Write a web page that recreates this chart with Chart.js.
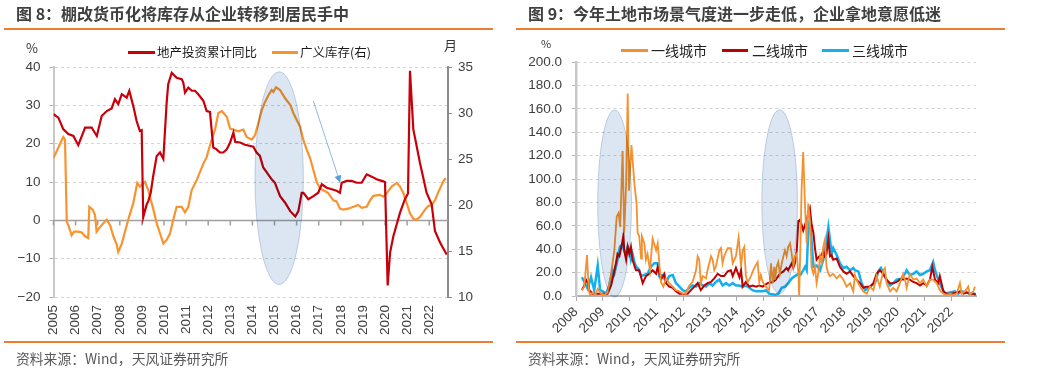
<!DOCTYPE html>
<html>
<head>
<meta charset="utf-8">
<script src="https://cdn.jsdelivr.net/npm/chart.js@4.4.1/dist/chart.umd.min.js"></script>
<style>
body{margin:0;width:1037px;height:377px;background:#fff;position:relative;overflow:hidden;font-family:"Noto Sans CJK SC","Noto Sans",sans-serif;}
canvas{position:absolute;top:0;}
.t{position:absolute;white-space:nowrap;z-index:2;}
.title{font-size:16px;font-weight:bold;color:#3f3f3f;top:3px;line-height:20px;}
.rule{position:absolute;height:1.5px;background:#ED7D31;z-index:2;}
.src{font-size:13.8px;color:#595959;top:349px;line-height:18px;}
.unit{font-size:13px;color:#333;line-height:16px;}
.sw{position:absolute;height:2.5px;z-index:2;}
</style>
</head>
<body>
<canvas id="c1" width="510" height="377" style="left:0"></canvas>
<canvas id="c2" width="527" height="377" style="left:510px"></canvas>

<div class="t title" style="left:16px">图 8：棚改货币化将库存从企业转移到居民手中</div>
<div class="rule" style="left:4px;top:28px;width:489px"></div>
<div class="rule" style="left:4px;top:341px;width:489px"></div>
<div class="t src" style="left:16px">资料来源：Wind，天风证券研究所</div>
<div class="t unit" style="left:26px;top:40px">%</div>
<div class="t unit" style="left:444px;top:37px">月</div>
<div class="sw" style="left:128px;top:51px;width:27px;background:#C8000A"></div>
<div class="t unit" style="left:157px;top:44px;font-size:12.5px;color:#1a1a1a">地产投资累计同比</div>
<div class="sw" style="left:272px;top:51px;width:26px;background:#F8932F"></div>
<div class="t unit" style="left:300px;top:44px;font-size:12.5px;color:#1a1a1a">广义库存(右)</div>

<div class="t title" style="left:528px">图 9：今年土地市场景气度进一步走低，企业拿地意愿低迷</div>
<div class="rule" style="left:516px;top:28px;width:489px"></div>
<div class="rule" style="left:516px;top:341px;width:489px"></div>
<div class="t src" style="left:528px">资料来源：Wind，天风证券研究所</div>
<div class="t unit" style="left:541px;top:35px;font-size:11px">%</div>
<div class="sw" style="left:621px;top:49px;width:27px;background:#F5902F"></div>
<div class="t unit" style="left:651px;top:41px;font-size:14px;line-height:18px;color:#222">一线城市</div>
<div class="sw" style="left:722px;top:49px;width:26px;background:#C00000"></div>
<div class="t unit" style="left:752px;top:41px;font-size:14px;line-height:18px;color:#222">二线城市</div>
<div class="sw" style="left:822px;top:49px;width:27px;background:#12B0EE"></div>
<div class="t unit" style="left:852px;top:41px;font-size:14px;line-height:18px;color:#222">三线城市</div>

<script>
// 图8 地产投资累计同比（%，左轴）
const invYears = [2005.00,2005.22,2005.44,2005.67,2005.90,2006.12,2006.43,2006.73,2006.80,2006.96,2007.18,2007.41,2007.63,2007.78,2007.93,2008.09,2008.31,2008.43,2008.61,2008.76,2008.91,2008.99,2009.06,2009.22,2009.29,2009.40,2009.51,2009.67,2009.82,2009.97,2010.12,2010.19,2010.35,2010.57,2010.80,2010.87,2010.95,2011.10,2011.26,2011.40,2011.55,2011.78,2011.93,2012.08,2012.23,2012.38,2012.53,2012.68,2012.84,2012.99,2013.14,2013.22,2013.44,2013.67,2014.04,2014.19,2014.34,2014.49,2014.65,2014.87,2015.02,2015.25,2015.48,2015.71,2015.94,2016.08,2016.23,2016.31,2016.53,2016.76,2016.98,2017.14,2017.36,2017.59,2017.81,2017.96,2018.04,2018.27,2018.49,2018.72,2018.94,2019.17,2019.40,2019.62,2019.85,2020.00,2020.12,2020.23,2020.38,2020.68,2020.90,2021.04,2021.13,2021.28,2021.58,2021.88,2022.11,2022.26,2022.49,2022.79];
const invValues = [27.7,26.8,23.8,22.5,22.0,19.6,24.2,24.2,23.5,22.0,27.2,28.5,29.2,31.6,30.3,32.9,32.0,33.8,29.8,25.9,23.3,23.5,0.8,4.2,5.0,7.2,11.5,16.8,17.7,16.0,30.7,35.5,38.5,37.2,36.8,36.0,33.3,34.6,33.8,33.8,32.9,31.2,28.5,28.3,19.0,18.5,17.7,17.7,18.5,20.3,22.9,20.5,20.3,19.7,19.2,17.7,16.8,13.8,12.5,10.7,9.8,6.3,4.6,2.4,1.0,2.4,7.2,7.2,5.5,6.3,7.2,9.4,8.5,8.1,7.7,7.2,9.8,10.3,10.3,9.8,9.8,12.0,11.4,10.7,10.3,10.0,-17.0,-8.4,-4.1,2.0,5.5,7.0,39.0,23.8,15.0,7.2,4.2,-2.8,-5.8,-8.9];

// 图8 广义库存（月，右轴）
const stockYears = [2005.00,2005.44,2005.52,2005.60,2005.67,2005.82,2005.93,2006.12,2006.28,2006.43,2006.57,2006.62,2006.77,2006.88,2006.95,2007.10,2007.33,2007.41,2007.56,2007.71,2007.86,2007.93,2008.09,2008.38,2008.61,2008.79,2008.91,2009.14,2009.29,2009.52,2009.67,2009.82,2009.97,2010.12,2010.27,2010.42,2010.57,2010.80,2010.95,2011.10,2011.25,2011.48,2011.78,2011.93,2012.08,2012.31,2012.46,2012.62,2012.84,2012.99,2013.14,2013.36,2013.59,2013.74,2013.97,2014.12,2014.27,2014.42,2014.57,2014.72,2014.87,2014.95,2015.07,2015.25,2015.48,2015.71,2015.85,2016.16,2016.30,2016.46,2016.61,2016.76,2016.91,2017.06,2017.21,2017.43,2017.66,2017.81,2017.96,2018.11,2018.33,2018.57,2018.79,2018.95,2019.17,2019.32,2019.47,2019.77,2019.92,2020.08,2020.30,2020.53,2020.68,2020.83,2020.98,2021.13,2021.28,2021.43,2021.58,2021.81,2021.96,2022.11,2022.26,2022.41,2022.57,2022.67,2022.76];
const stockValues = [25.1,27.4,27.1,18.2,17.8,16.7,17.1,17.1,17.0,16.6,16.4,19.8,19.5,18.9,17.1,17.6,18.2,18.4,17.8,16.6,15.7,14.9,15.8,18.4,20.2,22.4,22.0,22.5,21.6,19.5,18.0,16.9,15.8,16.2,16.9,18.4,19.8,19.8,19.2,19.8,21.6,22.7,24.5,25.2,26.5,28.2,30.0,30.2,29.6,28.3,28.2,28.0,28.2,27.4,27.1,27.6,28.9,30.3,31.2,31.9,32.5,32.3,32.8,32.5,31.6,30.9,30.0,28.5,27.1,26.0,25.1,23.8,22.5,21.8,21.6,21.3,20.5,20.4,19.6,19.5,19.6,19.8,20.0,19.7,19.8,20.5,21.0,21.1,20.9,21.3,22.0,22.4,22.0,21.3,20.2,19.1,18.5,18.4,18.7,19.5,19.9,20.0,20.5,21.4,22.2,22.7,22.9];

// 图9 土地溢价率（%）
const t1Years = [2008.22,2008.31,2008.41,2008.47,2008.52,2008.62,2008.72,2008.81,2008.93,2009.06,2009.18,2009.31,2009.43,2009.52,2009.59,2009.65,2009.74,2009.80,2009.87,2009.93,2009.98,2010.07,2010.18,2010.26,2010.30,2010.36,2010.43,2010.46,2010.55,2010.61,2010.67,2010.76,2010.86,2010.99,2011.05,2011.11,2011.17,2011.26,2011.36,2011.48,2011.61,2011.73,2011.86,2011.98,2012.10,2012.23,2012.35,2012.48,2012.54,2012.60,2012.66,2012.73,2012.85,2012.91,2013.04,2013.10,2013.16,2013.22,2013.35,2013.41,2013.47,2013.53,2013.66,2013.78,2013.85,2013.97,2014.07,2014.16,2014.22,2014.28,2014.34,2014.41,2014.47,2014.53,2014.65,2014.78,2014.84,2014.90,2014.97,2015.09,2015.21,2015.28,2015.34,2015.40,2015.43,2015.49,2015.55,2015.61,2015.68,2015.74,2015.80,2015.86,2015.92,2015.99,2016.05,2016.11,2016.17,2016.24,2016.30,2016.33,2016.38,2016.42,2016.48,2016.55,2016.61,2016.67,2016.73,2016.79,2016.86,2016.92,2016.98,2017.04,2017.11,2017.17,2017.23,2017.29,2017.35,2017.42,2017.48,2017.60,2017.73,2017.85,2017.98,2018.10,2018.23,2018.35,2018.41,2018.47,2018.60,2018.72,2018.85,2018.97,2019.10,2019.22,2019.34,2019.47,2019.53,2019.59,2019.72,2019.84,2019.97,2020.09,2020.21,2020.28,2020.34,2020.46,2020.59,2020.71,2020.84,2020.96,2021.09,2021.21,2021.33,2021.46,2021.58,2021.71,2021.83,2021.96,2022.08,2022.21,2022.33,2022.39,2022.52,2022.64,2022.70,2022.83,2022.89];
const t1Values = [5,8,35,8,0,3,1,6,2,1,3,19,39,68,71,59,124,54,95,173,90,129,96,79,54,51,32,51,45,31,36,22,49,39,45,28,12,8,15,11,8,5,4,2,2,9,12,22,34,31,11,17,15,22,34,31,22,25,39,41,28,34,41,41,28,34,50,25,39,42,17,12,14,17,24,29,12,18,12,8,5,28,11,25,14,25,29,19,28,34,39,34,42,45,36,25,34,36,19,0,48,91,123,76,45,79,65,25,19,25,11,19,34,28,42,48,25,19,17,19,15,18,14,8,11,4,18,14,8,4,2,8,5,17,8,22,24,11,4,7,4,11,19,14,7,19,14,15,11,14,8,14,14,11,5,2,1,2,1,2,11,2,4,8,1,4,8];

const t2Years = [2008.22,2008.31,2008.37,2008.44,2008.50,2008.62,2008.75,2008.87,2009.00,2009.18,2009.31,2009.37,2009.49,2009.55,2009.62,2009.72,2009.77,2009.80,2009.87,2009.93,2009.99,2010.05,2010.11,2010.18,2010.24,2010.36,2010.49,2010.61,2010.74,2010.86,2010.99,2011.05,2011.17,2011.30,2011.36,2011.48,2011.61,2011.73,2011.86,2011.98,2012.17,2012.29,2012.42,2012.54,2012.66,2012.79,2012.91,2013.04,2013.16,2013.29,2013.41,2013.53,2013.66,2013.78,2013.85,2013.97,2014.10,2014.16,2014.22,2014.34,2014.47,2014.59,2014.72,2014.84,2014.97,2015.15,2015.34,2015.46,2015.61,2015.74,2015.86,2015.92,2016.05,2016.11,2016.17,2016.24,2016.30,2016.36,2016.42,2016.48,2016.55,2016.61,2016.67,2016.73,2016.79,2016.86,2016.92,2016.98,2017.08,2017.17,2017.23,2017.29,2017.35,2017.42,2017.48,2017.54,2017.60,2017.73,2017.85,2017.98,2018.10,2018.23,2018.35,2018.47,2018.60,2018.72,2018.85,2018.97,2019.10,2019.22,2019.34,2019.47,2019.59,2019.72,2019.84,2019.97,2020.09,2020.21,2020.34,2020.46,2020.59,2020.71,2020.84,2020.96,2021.09,2021.21,2021.30,2021.40,2021.52,2021.58,2021.71,2021.83,2022.02,2022.21,2022.33,2022.46,2022.58,2022.70,2022.83,2022.92];
const t2Values = [5,9,14,11,5,2,2,2,2,2,9,15,28,36,34,45,52,39,31,42,36,42,31,26,22,22,11,17,19,22,19,25,14,19,11,8,7,4,2,2,2,5,8,11,5,9,11,12,15,19,17,17,21,22,17,24,16,22,8,12,8,9,8,9,8,11,12,14,19,21,24,22,28,24,28,39,64,65,61,56,61,65,71,75,62,54,41,31,34,35,39,34,36,49,34,35,31,32,25,21,19,21,17,14,11,7,8,8,11,19,22,19,14,11,11,12,14,14,15,14,12,11,9,11,9,14,25,14,11,17,4,2,2,3,4,2,3,2,2,1];

const t3Years = [2008.22,2008.31,2008.44,2008.56,2008.68,2008.81,2008.90,2009.00,2009.12,2009.24,2009.37,2009.43,2009.55,2009.64,2009.72,2009.80,2009.87,2009.93,2009.99,2010.05,2010.11,2010.18,2010.24,2010.30,2010.36,2010.43,2010.55,2010.67,2010.80,2010.92,2011.05,2011.11,2011.23,2011.36,2011.48,2011.61,2011.73,2011.86,2011.98,2012.10,2012.23,2012.35,2012.48,2012.60,2012.73,2012.85,2012.98,2013.10,2013.22,2013.35,2013.47,2013.60,2013.72,2013.85,2013.97,2014.09,2014.22,2014.34,2014.47,2014.59,2014.72,2014.84,2014.97,2015.09,2015.21,2015.43,2015.55,2015.68,2015.80,2015.92,2016.05,2016.17,2016.30,2016.38,2016.48,2016.55,2016.61,2016.67,2016.73,2016.79,2016.86,2016.98,2017.11,2017.23,2017.35,2017.42,2017.48,2017.54,2017.60,2017.73,2017.85,2017.98,2018.10,2018.23,2018.35,2018.41,2018.54,2018.66,2018.79,2018.91,2019.03,2019.16,2019.28,2019.38,2019.47,2019.59,2019.72,2019.84,2019.97,2020.15,2020.28,2020.34,2020.46,2020.59,2020.71,2020.84,2020.96,2021.09,2021.21,2021.33,2021.40,2021.52,2021.65,2021.77,2021.96,2022.14,2022.27,2022.39,2022.58,2022.70,2022.83,2022.92];
const t3Values = [16,12,6,16,5,26,5,4,2,9,22,19,31,42,44,39,35,42,39,31,36,29,25,24,22,17,18,19,25,28,28,17,18,12,17,18,11,8,5,4,7,9,8,11,9,8,11,9,12,14,9,11,9,11,9,9,8,9,7,5,4,4,4,5,2,1,2,7,8,11,15,17,19,18,22,25,22,56,66,48,25,26,22,31,48,59,48,36,41,35,28,24,25,22,24,22,21,11,5,7,9,11,21,24,19,14,9,11,14,15,19,22,18,19,21,18,19,21,22,29,22,14,7,2,3,4,2,4,3,2,2,2];

const pts = (xs, ys) => xs.map((x, i) => ({x: x, y: ys[i]}));
const tickFont = {family: 'Liberation Sans', size: 13.5};
const minus = v => String(v).replace('-', '\u2212');

// 椭圆阴影 + 箭头
const shade = {
  id: 'shade',
  afterDatasetsDraw(chart, args, opts) {
    const ctx = chart.ctx;
    const x = chart.scales.x, y = chart.scales.y;
    ctx.save();
    ctx.globalCompositeOperation = 'multiply';
    (opts.ellipses || []).forEach(e => {
      const cx = x.getPixelForValue(e.cx), cy = y.getPixelForValue(e.cy);
      const rx = Math.abs(x.getPixelForValue(e.cx + e.rx) - cx);
      const ry = Math.abs(y.getPixelForValue(e.cy + e.ry) - cy);
      ctx.beginPath();
      ctx.ellipse(cx, cy, rx, ry, 0, 0, Math.PI * 2);
      ctx.fillStyle = 'rgb(220,230,242)';
      ctx.fill();
      ctx.strokeStyle = 'rgb(200,215,233)';
      ctx.lineWidth = 1;
      ctx.stroke();
    });
    ctx.restore();
    if (opts.arrow) {
      const a = opts.arrow;
      const x1 = x.getPixelForValue(a.x1), y1 = y.getPixelForValue(a.y1);
      const x2 = x.getPixelForValue(a.x2), y2 = y.getPixelForValue(a.y2);
      const ang = Math.atan2(y2 - y1, x2 - x1);
      ctx.save();
      ctx.strokeStyle = '#8FB8E2';
      ctx.lineWidth = 1;
      ctx.beginPath();
      ctx.moveTo(x1, y1);
      ctx.lineTo(x2 - 6 * Math.cos(ang), y2 - 6 * Math.sin(ang));
      ctx.stroke();
      ctx.fillStyle = '#5B9BD5';
      ctx.beginPath();
      ctx.moveTo(x2, y2);
      ctx.lineTo(x2 - 8 * Math.cos(ang - 0.45), y2 - 8 * Math.sin(ang - 0.45));
      ctx.lineTo(x2 - 8 * Math.cos(ang + 0.45), y2 - 8 * Math.sin(ang + 0.45));
      ctx.closePath();
      ctx.fill();
      ctx.restore();
    }
  }
};

// 0 轴实线和年份刻度
const zeroAxis = {
  id: 'zeroAxis',
  beforeDatasetsDraw(chart) {
    const ctx = chart.ctx;
    const x = chart.scales.x, y = chart.scales.y;
    const py = Math.round(y.getPixelForValue(0)) + 0.5;
    ctx.save();
    ctx.strokeStyle = '#a0a0a0';
    ctx.lineWidth = 1.5;
    ctx.beginPath();
    ctx.moveTo(x.left, py);
    ctx.lineTo(x.right, py);
    x.ticks.forEach(t => {
      const px = x.getPixelForValue(t.value);
      ctx.moveTo(px, py);
      ctx.lineTo(px, py + 5);
    });
    ctx.stroke();
    ctx.restore();
  }
};

new Chart(document.getElementById('c1'), {
  type: 'line',
  data: {
    datasets: [
      {label: '地产投资累计同比', data: pts(invYears, invValues), borderColor: '#C8000A', borderWidth: 2.2, yAxisID: 'y'},
      {label: '广义库存(右)', data: pts(stockYears, stockValues), borderColor: '#F8932F', borderWidth: 2.2, yAxisID: 'y1'}
    ]
  },
  options: {
    responsive: false,
    animation: false,
    devicePixelRatio: 1,
    elements: {point: {radius: 0}, line: {tension: 0}},
    layout: {padding: {top: 67, left: 0, right: 0, bottom: 0}},
    plugins: {
      legend: {display: false},
      tooltip: {enabled: false},
      shade: {
        ellipses: [{cx: 2015.21, cy: 11.0, rx: 1.095, ry: 27.75}],
        arrow: {x1: 2016.76, y1: 31.1, x2: 2017.97, y2: 9.8}
      }
    },
    scales: {
      x: {
        type: 'linear', min: 2005, max: 2022.85,
        grid: {display: false, drawTicks: false},
        border: {display: false},
        ticks: {stepSize: 1, includeBounds: false, autoSkip: false, minRotation: 90, maxRotation: 90, padding: 8,
                color: '#404040', font: tickFont, callback: v => String(v)},
        afterFit(s) { s.height = 80; }
      },
      y: {
        position: 'left', min: -20, max: 40,
        ticks: {stepSize: 10, padding: 9, color: '#404040', font: tickFont, callback: minus},
        grid: {color: c => (c.tick && c.tick.value === 0) ? 'rgba(0,0,0,0)' : '#d4d4d4',
               tickColor: '#b0b0b0', tickLength: 4, tickBorderDash: []},
        border: {color: '#c8c8c8', width: 2, dash: [3, 3]},
        afterFit(s) { s.width = 53.5; }
      },
      y1: {
        position: 'right', min: 10, max: 35,
        ticks: {stepSize: 5, padding: 6, color: '#404040', font: tickFont},
        grid: {drawOnChartArea: false, tickColor: '#8c8c8c', tickLength: 4},
        border: {color: '#8c8c8c', width: 2},
        afterFit(s) { s.width = 62; }
      }
    }
  },
  plugins: [zeroAxis, shade]
});

new Chart(document.getElementById('c2'), {
  type: 'line',
  data: {
    datasets: [
      {label: '一线城市', data: pts(t1Years, t1Values), borderColor: '#F5902F', borderWidth: 1.8},
      {label: '二线城市', data: pts(t2Years, t2Values), borderColor: '#C00000', borderWidth: 2},
      {label: '三线城市', data: pts(t3Years, t3Values), borderColor: '#12B0EE', borderWidth: 2.5}
    ]
  },
  options: {
    responsive: false,
    animation: false,
    devicePixelRatio: 1,
    elements: {point: {radius: 0}, line: {tension: 0}},
    layout: {padding: {top: 62, left: 0, right: 61, bottom: 0}},
    plugins: {
      legend: {display: false},
      tooltip: {enabled: false},
      shade: {
        ellipses: [{cx: 2009.44, cy: 79, rx: 0.63, ry: 80}, {cx: 2015.6, cy: 80.6, rx: 0.665, ry: 78.6}]
      }
    },
    scales: {
      x: {
        type: 'linear', min: 2008, max: 2022.93,
        grid: {drawOnChartArea: false, drawTicks: true, tickLength: 5, tickColor: '#a8a8a8'},
        border: {color: '#b0b0b0', width: 2},
        ticks: {stepSize: 1, includeBounds: false, autoSkip: false, minRotation: 45, maxRotation: 45, padding: 3,
                color: '#404040', font: tickFont, callback: v => String(v)},
        afterFit(s) { s.height = 81; }
      },
      y: {
        min: 0, max: 200,
        ticks: {stepSize: 20, padding: 10, color: '#404040', font: tickFont, callback: v => v.toFixed(1)},
        grid: {color: c => (c.tick && c.tick.value === 0) ? 'rgba(0,0,0,0)' : '#d4d4d4',
               tickColor: '#b8b8b8', tickLength: 4},
        border: {color: '#c8c8c8', width: 2.5, dash: [3, 3]},
        afterFit(s) { s.width = 66; }
      }
    }
  },
  plugins: [shade]
});
</script>
</body>
</html>
